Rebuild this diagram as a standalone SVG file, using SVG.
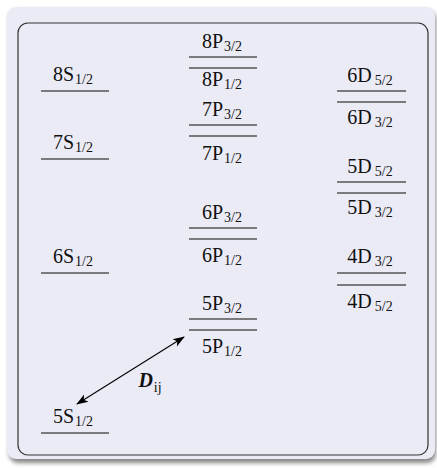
<svg xmlns="http://www.w3.org/2000/svg" width="437" height="468" viewBox="0 0 437 468">
<defs>
<filter id="sh" x="-5%" y="-5%" width="110%" height="110%"><feGaussianBlur stdDeviation="2"/></filter>
<marker id="ah" viewBox="0 0 12 10" refX="11" refY="5" markerWidth="12" markerHeight="10" markerUnits="userSpaceOnUse" orient="auto-start-reverse">
<path d="M0,0.8 L12,5 L0,9.2 L3,5 z" fill="#000"/>
</marker>
<style>
.lv{stroke:#555;stroke-width:1.5;fill:none}
.t{font-family:"Liberation Serif","Times New Roman",serif;font-size:20px;fill:#111;text-anchor:middle}
.s{font-size:14px}
</style>
</defs>
<rect x="9" y="10" width="427" height="453" rx="9" fill="#888" filter="url(#sh)"/>
<rect x="7" y="7" width="428" height="452" rx="9" fill="#ebebf6"/>
<rect x="18" y="23" width="410" height="432" rx="10" fill="none" stroke="#333" stroke-width="1.2"/>

<g id="S8"><line class="lv" x1="41" y1="91" x2="109" y2="91"/><text class="t" x="73" y="81">8S<tspan class="s" dx="1" dy="3">1/2</tspan></text></g>
<g id="S7"><line class="lv" x1="41" y1="159" x2="109" y2="159"/><text class="t" x="73" y="149">7S<tspan class="s" dx="1" dy="3">1/2</tspan></text></g>
<g id="S6"><line class="lv" x1="41" y1="273" x2="109" y2="273"/><text class="t" x="73" y="263">6S<tspan class="s" dx="1" dy="3">1/2</tspan></text></g>
<g id="S5"><line class="lv" x1="41" y1="433" x2="109" y2="433"/><text class="t" x="73" y="423">5S<tspan class="s" dx="1" dy="3">1/2</tspan></text></g>

<g id="P8a"><line class="lv" x1="189" y1="57" x2="257" y2="57"/><text class="t" x="222" y="48">8P<tspan class="s" dx="1" dy="3">3/2</tspan></text></g>
<g id="P8b"><line class="lv" x1="189" y1="68" x2="257" y2="68"/><text class="t" x="222" y="86">8P<tspan class="s" dx="1" dy="3">1/2</tspan></text></g>
<g id="P7a"><line class="lv" x1="189" y1="125" x2="257" y2="125"/><text class="t" x="222" y="116">7P<tspan class="s" dx="1" dy="3">3/2</tspan></text></g>
<g id="P7b"><line class="lv" x1="189" y1="136" x2="257" y2="136"/><text class="t" x="222" y="160">7P<tspan class="s" dx="1" dy="3">1/2</tspan></text></g>
<g id="P6a"><line class="lv" x1="189" y1="228" x2="257" y2="228"/><text class="t" x="222" y="219">6P<tspan class="s" dx="1" dy="3">3/2</tspan></text></g>
<g id="P6b"><line class="lv" x1="189" y1="239" x2="257" y2="239"/><text class="t" x="222" y="262">6P<tspan class="s" dx="1" dy="3">1/2</tspan></text></g>
<g id="P5a"><line class="lv" x1="189" y1="319" x2="257" y2="319"/><text class="t" x="222" y="310">5P<tspan class="s" dx="1" dy="3">3/2</tspan></text></g>
<g id="P5b"><line class="lv" x1="189" y1="330" x2="257" y2="330"/><text class="t" x="222" y="353">5P<tspan class="s" dx="1" dy="3">1/2</tspan></text></g>

<g id="D6a"><line class="lv" x1="337" y1="91" x2="406" y2="91"/><text class="t" x="370" y="82">6D<tspan class="s" dx="3" dy="3">5/2</tspan></text></g>
<g id="D6b"><line class="lv" x1="337" y1="102" x2="406" y2="102"/><text class="t" x="370" y="124">6D<tspan class="s" dx="3" dy="3">3/2</tspan></text></g>
<g id="D5a"><line class="lv" x1="337" y1="182" x2="406" y2="182"/><text class="t" x="370" y="173">5D<tspan class="s" dx="3" dy="3">5/2</tspan></text></g>
<g id="D5b"><line class="lv" x1="337" y1="193" x2="406" y2="193"/><text class="t" x="370" y="214">5D<tspan class="s" dx="3" dy="3">3/2</tspan></text></g>
<g id="D4a"><line class="lv" x1="337" y1="273" x2="406" y2="273"/><text class="t" x="370" y="263">4D<tspan class="s" dx="3" dy="3">3/2</tspan></text></g>
<g id="D4b"><line class="lv" x1="337" y1="285" x2="406" y2="285"/><text class="t" x="370" y="308">4D<tspan class="s" dx="3" dy="3">5/2</tspan></text></g>

<g id="connectors">
<line x1="77" y1="404" x2="184" y2="337" stroke="#000" stroke-width="1.1" marker-start="url(#ah)" marker-end="url(#ah)"/>
<text class="t" x="150" y="387"><tspan font-weight="bold" font-style="italic">D</tspan><tspan class="s" dx="1" dy="5">ij</tspan></text>
</g>
</svg>
